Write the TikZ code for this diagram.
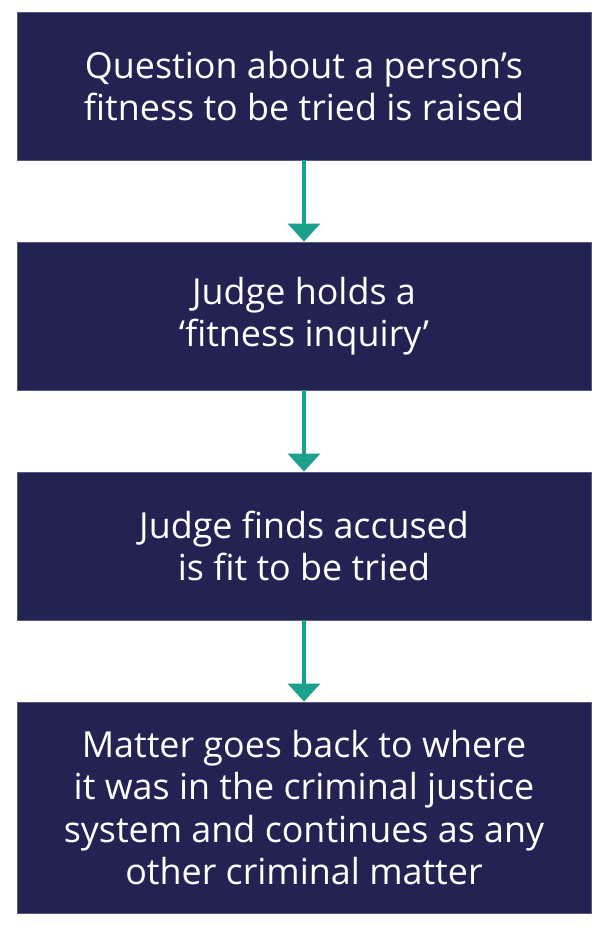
\documentclass[tikz,border=0pt]{standalone}
\usepackage{fontspec}
\setmainfont{Open Sans}
\usetikzlibrary{arrows.meta}
\definecolor{navy}{HTML}{222253}
\definecolor{teal}{HTML}{1BA08C}
\definecolor{edge}{HTML}{5A5A80}
\begin{document}
\begin{tikzpicture}[x=1bp,y=-1bp,
  stepbox/.style={draw=edge,line width=0.8bp,fill=navy,text=white,minimum width=574bp,align=center,
    font=\fontsize{36}{42.5}\selectfont,inner sep=0pt},
  flow/.style={draw=teal,line width=3.5bp,-{Triangle[width=32bp,length=18bp]}}]
\useasboundingbox (0,0) rectangle (616,932);
\node[stepbox,minimum height=148bp] (a) at (304,86) {Question about a person’s\\fitness to be tried is raised};
\node[stepbox,minimum height=148bp] (b) at (304,316) {Judge holds a\\‘fitness inquiry’};
\node[stepbox,minimum height=148bp] (c) at (304,546) {Judge finds accused\\is fit to be tried};
\node[stepbox,minimum height=211bp] (d) at (304,807.5) {Matter goes back to where\\it was in the criminal justice\\system and continues as any\\other criminal matter};
\draw[flow] (a.south) -- (b.north);
\draw[flow] (b.south) -- (c.north);
\draw[flow] (c.south) -- (d.north);
\end{tikzpicture}
\end{document}
